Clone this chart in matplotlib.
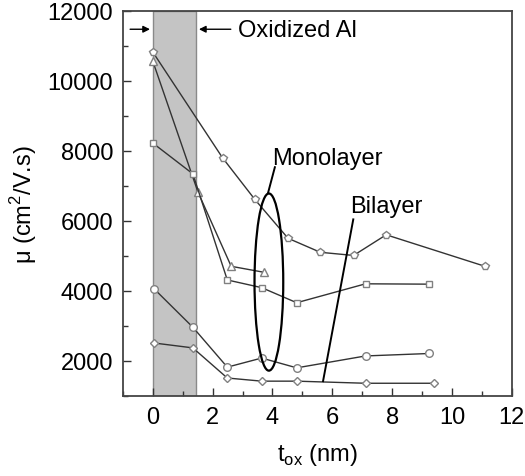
import matplotlib.pyplot as plt
from matplotlib.patches import Ellipse
from matplotlib.ticker import MultipleLocator

plt.rcParams['font.family'] = ['Liberation Sans', 'DejaVu Sans']

# pentagon series
x_pent = [0, 2.33, 3.41, 4.52, 5.6, 6.71, 7.8, 11.1]
y_pent = [10820, 7800, 6610, 5500, 5100, 5010, 5600, 4700]
# triangle series
x_tri = [0, 1.51, 2.62, 3.71]
y_tri = [10560, 6820, 4700, 4530]
# square series
x_sq = [0, 1.34, 2.49, 3.64, 4.81, 7.11, 9.24]
y_sq = [8220, 7340, 4310, 4090, 3660, 4200, 4190]
# circle series
x_circ = [0.04, 1.34, 2.49, 3.64, 4.81, 7.11, 9.24]
y_circ = [4060, 2960, 1820, 2080, 1800, 2140, 2210]
# diamond series
x_dia = [0.04, 1.34, 2.49, 3.64, 4.81, 7.11, 9.41]
y_dia = [2510, 2370, 1510, 1420, 1420, 1360, 1360]

fs = 17

fig = plt.figure(figsize=(5.25, 4.77), dpi=100)
ax = fig.add_axes([0.234, 0.168, 0.741, 0.8075])

ax.axvspan(0, 1.45, facecolor='#c4c4c4', edgecolor='#8a8a8a', lw=1, zorder=0)

mk = dict(color='#333333', lw=1, mfc='white', mec='#808080', mew=1)
ax.plot(x_pent, y_pent, marker='p', ms=6, **mk)
ax.plot(x_tri, y_tri, marker='^', ms=5.5, **mk)
ax.plot(x_sq, y_sq, marker='s', ms=4.8, **mk)
ax.plot(x_circ, y_circ, marker='o', ms=5.5, **mk)
ax.plot(x_dia, y_dia, marker='D', ms=4.5, **mk)

# monolayer ellipse + pointer
ax.add_patch(Ellipse((3.88, 4250), 0.96, 5060, fill=False, ec='black', lw=1.6, zorder=5))
ax.plot([3.85, 4.08], [6790, 7530], color='black', lw=1.4)
ax.text(4.0, 7800, 'Monolayer', fontsize=fs, ha='left', va='center')

# bilayer pointer
ax.plot([5.69, 6.7], [1420, 6040], color='black', lw=1.4)
ax.text(6.58, 6420, 'Bilayer', fontsize=fs, ha='left', va='center')

# oxidized Al arrows
ax.annotate('', xy=(0, 11470), xytext=(-0.85, 11470),
            arrowprops=dict(arrowstyle='-|>', color='black', lw=1, mutation_scale=10))
ax.annotate('', xy=(1.45, 11470), xytext=(2.7, 11470),
            arrowprops=dict(arrowstyle='-|>', color='black', lw=1, mutation_scale=10))
ax.text(2.84, 11440, 'Oxidized Al', fontsize=fs, ha='left', va='center')

ax.set_xlim(-1, 12)
ax.set_ylim(1000, 12000)
ax.xaxis.set_major_locator(MultipleLocator(2))
ax.xaxis.set_minor_locator(MultipleLocator(1))
ax.yaxis.set_major_locator(MultipleLocator(2000))
ax.yaxis.set_minor_locator(MultipleLocator(1000))
ax.tick_params(which='both', direction='in', labelsize=fs, width=1, color='#333333')
ax.tick_params(which='major', length=6, pad=7)
ax.tick_params(which='minor', length=3.5)
for s in ax.spines.values():
    s.set_linewidth(1.3)
    s.set_color('#444444')

ax.set_xlabel('t$_{\\mathregular{ox}}$ (nm)', fontsize=fs, labelpad=10)
ax.set_ylabel('\u03bc (cm$^{\\mathregular{2}}$/V.s)', fontsize=fs, labelpad=6)

fig.savefig('out.png', dpi=100)
